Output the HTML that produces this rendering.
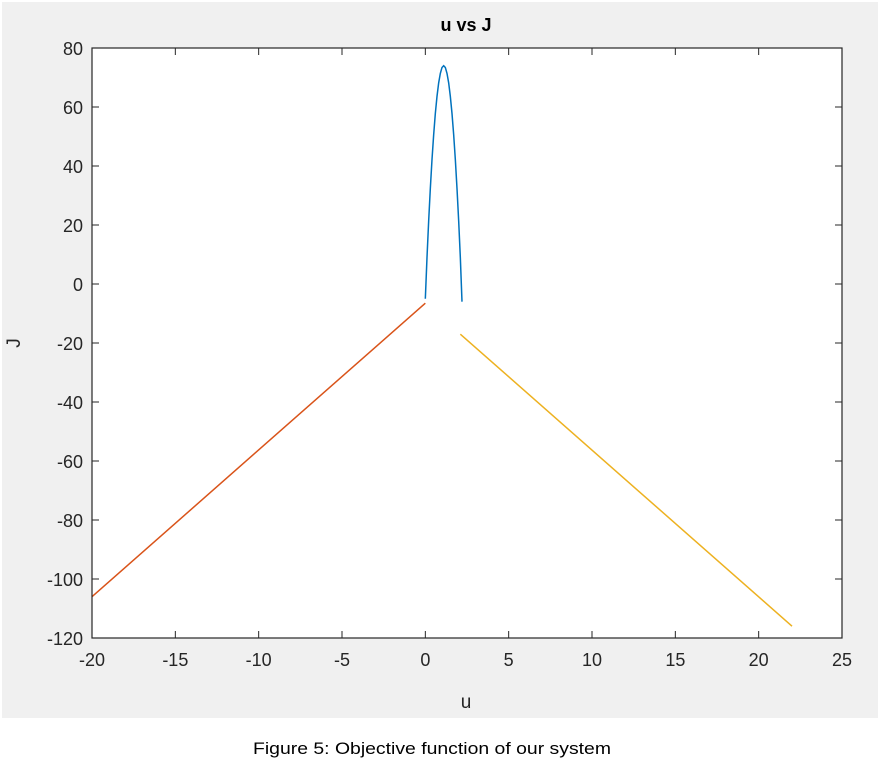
<!DOCTYPE html>
<html><head><meta charset="utf-8"><style>
html,body{margin:0;padding:0;background:#fff;}
svg{display:block;}
</style></head><body>
<svg id="chart" width="880" height="764" xmlns="http://www.w3.org/2000/svg">
<rect x="2" y="2" width="876" height="716" fill="#f0f0f0"/>
<rect x="92" y="48" width="750" height="590" fill="#fff"/>
<g id="ticks"></g>
<g id="series"></g>
<rect x="92" y="48" width="750" height="590" fill="none" stroke="#262626" stroke-width="1.2"/>
<text x="466" y="31" text-anchor="middle" font-family="Liberation Sans, sans-serif" font-size="18" font-weight="bold" fill="#000">u vs J</text>
<text x="466" y="708" text-anchor="middle" font-family="Liberation Sans, sans-serif" font-size="19" fill="#262626">u</text>
<text transform="translate(20,343) rotate(-90)" text-anchor="middle" font-family="Liberation Sans, sans-serif" font-size="19" fill="#262626">J</text>
<text x="432" y="754" text-anchor="middle" font-family="Liberation Sans Narrow, Liberation Sans, sans-serif" font-size="17" textLength="358" lengthAdjust="spacingAndGlyphs" fill="#000">Figure 5: Objective function of our system</text>
</svg>
<script>
const xTicks = [-20,-15,-10,-5,0,5,10,15,20,25];
const yTicks = [80,60,40,20,0,-20,-40,-60,-80,-100,-120];
const blueU = [0,0.1,0.2,0.3,0.4,0.5,0.6,0.7,0.8,0.9,1.0,1.1,1.2,1.3,1.4,1.5,1.6,1.7,1.8,1.9,2.0,2.1,2.2];
const blueJ = [-5,9,21.4,32.4,42.2,50.6,57.8,63.6,68.2,71.4,73.4,74,73.4,71.4,68.2,63.6,57.8,50.6,42.2,32.4,21.4,9,-6];
const redU = [-20,0];
const redJ = [-106,-6.5];
const yellowU = [2.1,22];
const yellowJ = [-17,-116];

const NS='http://www.w3.org/2000/svg';
const L=92,R=842,T=48,B=638;
const xMin=-20,xMax=25,yMin=-120,yMax=80;
function sx(v){return L+(v-xMin)/(xMax-xMin)*(R-L);}
function sy(v){return B-(v-yMin)/(yMax-yMin)*(B-T);}
const tg=document.getElementById('ticks');
function mk(tag,attrs,parent){const e=document.createElementNS(NS,tag);for(const k in attrs)e.setAttribute(k,attrs[k]);parent.appendChild(e);return e;}
xTicks.forEach(v=>{
  const x=sx(v);
  const t1=mk('line',{x1:x,x2:x,y1:B,y2:B-7,stroke:'#262626','stroke-width':1},tg);
  
  
  const t2=mk('line',{x1:x,x2:x,y1:T,y2:T+7,stroke:'#262626','stroke-width':1},tg);
  
  
  const lb=mk('text',{x:x,y:B+28,'text-anchor':'middle','font-family':'Liberation Sans, sans-serif','font-size':'18',fill:'#262626'},tg);
  lb.textContent=v;
  
  
});
yTicks.forEach(v=>{
  const y=sy(v);
  const t1=mk('line',{x1:L,x2:L+7,y1:y,y2:y,stroke:'#262626','stroke-width':1},tg);
  
  
  const t2=mk('line',{x1:R,x2:R-7,y1:y,y2:y,stroke:'#262626','stroke-width':1},tg);
  
  
  const lb=mk('text',{x:L-9,y:y+7,'text-anchor':'end','font-family':'Liberation Sans, sans-serif','font-size':'18',fill:'#262626'},tg);
  lb.textContent=v;
  
  
});
const sg=document.getElementById('series');
function line(us,js,color,name){
  const d=us.map((u,i)=>(i?'L':'M')+sx(u).toFixed(2)+','+sy(js[i]).toFixed(2)).join(' ');
  const p=mk('path',{d:d,fill:'none',stroke:color,'stroke-width':1.5},sg);
  
  
}
line(blueU,blueJ,'#0072bd','series-blue-parabola');
line(redU,redJ,'#d95319','series-red-line');
line(yellowU,yellowJ,'#edb120','series-yellow-line');
</script>
</body></html>
